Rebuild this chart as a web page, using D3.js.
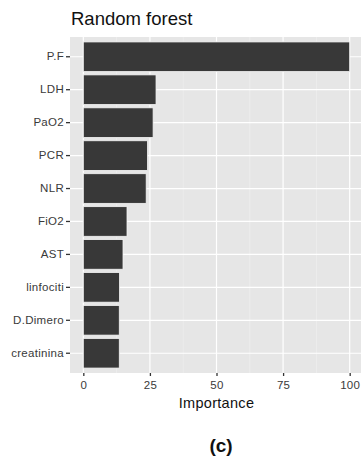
<!DOCTYPE html>
<html>
<head>
<meta charset="utf-8">
<script src="https://cdn.jsdelivr.net/npm/d3@7"></script>
<style>
  html, body { margin: 0; padding: 0; background: #fff; }
  svg { display: block; }
</style>
</head>
<body>
<svg id="chart" width="361" height="462"></svg>
<script>
// Variable importance from the random forest model
const variables = ["P.F", "LDH", "PaO2", "PCR", "NLR", "FiO2", "AST", "linfociti", "D.Dimero", "creatinina"];
const importance = [100, 27.3, 26.2, 24.1, 23.6, 16.4, 14.9, 13.6, 13.5, 13.5];
const xTicks = [0, 25, 50, 75, 100];
const xMinor = [12.5, 37.5, 62.5, 87.5];

const svg = d3.select("#chart");
const panel = { left: 70, top: 37, right: 363, bottom: 373 };
const font = "'Liberation Sans', Arial, sans-serif";

// x: continuous with ggplot-like 5% expansion
const x = d3.scaleLinear().domain([-5, 105]).range([panel.left, panel.right]);
// y: discrete categories, first at top
const y = d3.scaleBand().domain(variables).range([panel.top, panel.bottom])
  .paddingInner(0).paddingOuter(0.1);
const bandW = y.step();
const barH = bandW * 0.9;

// panel background
svg.append("rect")
  .attr("x", panel.left).attr("y", panel.top)
  .attr("width", panel.right - panel.left).attr("height", panel.bottom - panel.top)
  .attr("fill", "#e6e6e6");

const grid = svg.append("g");
grid.selectAll("line.minor").data(xMinor).join("line")
  .attr("x1", d => x(d)).attr("x2", d => x(d))
  .attr("y1", panel.top).attr("y2", panel.bottom)
  .attr("stroke", "#f2f2f2").attr("stroke-width", 0.6);
grid.selectAll("line.major").data(xTicks).join("line")
  .attr("x1", d => x(d)).attr("x2", d => x(d))
  .attr("y1", panel.top).attr("y2", panel.bottom)
  .attr("stroke", "#fff").attr("stroke-width", 1.2);
grid.selectAll("line.hy").data(variables).join("line")
  .attr("x1", panel.left).attr("x2", panel.right)
  .attr("y1", d => y(d) + bandW / 2).attr("y2", d => y(d) + bandW / 2)
  .attr("stroke", "#fff").attr("stroke-width", 1.2);

// bars
svg.append("g").selectAll("rect").data(variables).join("rect")
  .attr("x", x(0))
  .attr("y", d => y(d) + (bandW - barH) / 2)
  .attr("width", (d, i) => x(importance[i]) - x(0))
  .attr("height", barH)
  .attr("fill", "#383838")
  .attr("stroke", "#f4f4f4")
  .attr("stroke-width", 0.8);

// y axis
const yAxis = svg.append("g")
  .attr("transform", `translate(${panel.left},0)`)
  .call(d3.axisLeft(y).tickSize(4).tickPadding(2));
yAxis.select(".domain").remove();
yAxis.selectAll(".tick line").attr("stroke", "#333").attr("stroke-width", 1.3);
yAxis.selectAll(".tick text")
  .attr("fill", "#3a3a3a")
  .style("font-family", font)
  .style("font-size", "11.5px")
  .style("letter-spacing", "0.3px");

// x axis
const xAxis = svg.append("g")
  .attr("transform", `translate(0,${panel.bottom})`)
  .call(d3.axisBottom(x).tickValues(xTicks).tickFormat(d3.format("d")).tickSize(3).tickPadding(5));
xAxis.select(".domain").remove();
xAxis.selectAll(".tick line").attr("stroke", "#333").attr("stroke-width", 1.3);
xAxis.selectAll(".tick text")
  .attr("fill", "#3a3a3a")
  .style("font-family", font)
  .style("font-size", "11.5px")
  .style("letter-spacing", "0.3px");

// titles
svg.append("text")
  .attr("x", panel.left + 1).attr("y", 25)
  .style("font-family", font)
  .style("font-size", "18.5px")
  .attr("fill", "#111")
  .text("Random forest");

svg.append("text")
  .attr("x", x(50)).attr("y", 408)
  .attr("text-anchor", "middle")
  .style("font-family", font)
  .style("font-size", "14.5px")
  .style("letter-spacing", "0.3px")
  .attr("fill", "#111")
  .text("Importance");

svg.append("text")
  .attr("x", 221).attr("y", 452)
  .attr("text-anchor", "middle")
  .style("font-family", font)
  .style("font-size", "19px")
  .style("font-weight", "bold")
  .attr("fill", "#111")
  .text("(c)");
</script>
</body>
</html>
